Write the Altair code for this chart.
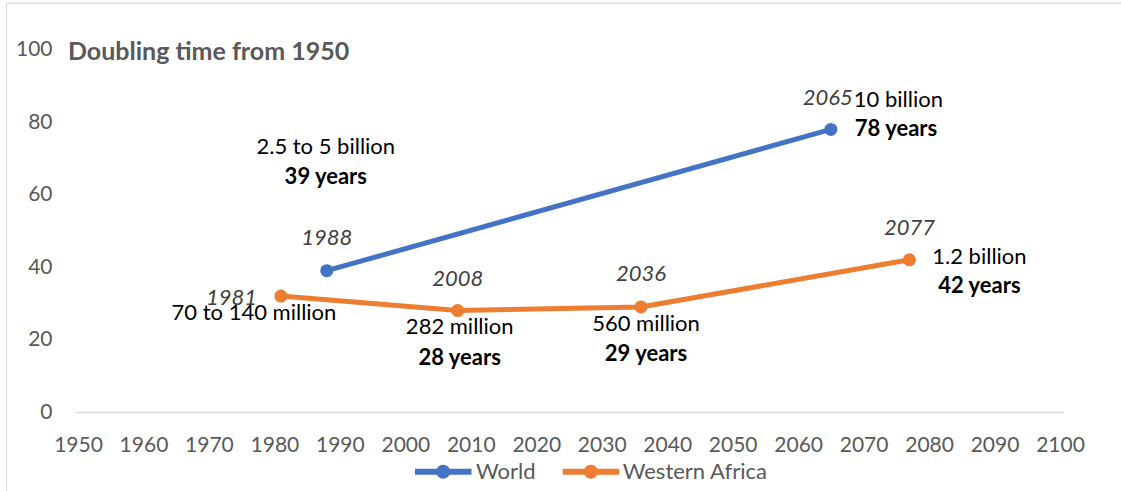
import altair as alt
import pandas as pd

# ---- data ----
series_names = ["World", "Western Africa"]
series_colors = ["#4472C4", "#ED7D31"]

world_years = [1988, 2065]
world_doubling = [39, 78]
world_pop = ["2.5 to 5 billion", "10 billion"]
world_span = ["39 years", "78 years"]

wa_years = [1981, 2008, 2036, 2077]
wa_doubling = [32, 28, 29, 42]
wa_pop = ["70 to 140 million", "282 million", "560 million", "1.2 billion"]
wa_span = ["", "28 years", "29 years", "42 years"]

x_ticks = list(range(1950, 2101, 10))
y_ticks = [0, 20, 40, 60, 80, 100]
chart_title = "Doubling time from 1950"

rows = []
for s, ys, ds, ps, sp in [("World", world_years, world_doubling, world_pop, world_span),
                          ("Western Africa", wa_years, wa_doubling, wa_pop, wa_span)]:
    for y, d, p, t in zip(ys, ds, ps, sp):
        rows.append({"series": s, "year": y, "doubling": d,
                     "year_label": str(y), "pop": p, "span": t})
df = pd.DataFrame(rows)

FONT = "Lato"
GRAY = "#595959"
FS = 22

X = alt.X("year:Q",
          scale=alt.Scale(domain=[1949.54, 2100.46], nice=False, zero=False),
          axis=alt.Axis(values=x_ticks, format="d", title=None, grid=False, ticks=False,
                        domainColor="#D9D9D9", domainWidth=1.5, labelFont=FONT,
                        labelFontSize=21, labelColor=GRAY, labelPadding=22,
                        labelFlush=False))
Y = alt.Y("doubling:Q",
          scale=alt.Scale(domain=[0, 100], nice=False),
          axis=alt.Axis(values=y_ticks, title=None, grid=False, ticks=False, domain=False,
                        labelFont=FONT, labelFontSize=21, labelColor=GRAY, labelPadding=23))

C = alt.Color("series:N", scale=alt.Scale(domain=series_names, range=series_colors),
              legend=None)

lines = alt.Chart(df).mark_line(strokeWidth=5).encode(x=X, y=Y, color=C, detail="series:N")
points = alt.Chart(df).mark_circle(size=170, opacity=1).encode(x=X, y=Y, color=C)


def label(series, year, field, dx, dy, align="center", weight="normal",
          style="normal", color="#000000"):
    return (alt.Chart(df)
            .transform_filter((alt.datum.series == series) & (alt.datum.year == year))
            .mark_text(dx=dx, dy=dy, align=align, baseline="middle", font=FONT,
                       fontSize=FS, fontWeight=weight, fontStyle=style, color=color)
            .encode(x=X, y=Y, text=f"{field}:N"))


YEARC = "#404040"
labels = [
    label("World", 1988, "year_label", 0, -33, style="italic", color=YEARC),
    label("World", 1988, "pop", -1, -124),
    label("World", 1988, "span", -1, -94, weight="bold"),
    label("World", 2065, "year_label", 22, -31, align="right", style="italic", color=YEARC),
    label("World", 2065, "pop", 23, -29, align="left"),
    label("World", 2065, "span", 24, 0, align="left", weight="bold"),
    label("Western Africa", 1981, "year_label", -24, 2, align="right", style="italic", color=YEARC),
    label("Western Africa", 1981, "pop", -27, 17),
    label("Western Africa", 2008, "year_label", 0, -32, style="italic", color=YEARC),
    label("Western Africa", 2008, "pop", 2, 16),
    label("Western Africa", 2008, "span", 2, 47, weight="bold"),
    label("Western Africa", 2036, "year_label", 0, -33, style="italic", color=YEARC),
    label("Western Africa", 2036, "pop", 5, 17),
    label("Western Africa", 2036, "span", 5, 47, weight="bold"),
    label("Western Africa", 2077, "year_label", 0, -32, style="italic", color=YEARC),
    label("Western Africa", 2077, "pop", 70, -3),
    label("Western Africa", 2077, "span", 70, 26, weight="bold"),
]

# ---- legend (line-with-marker glyphs), laid out below the axis ----
legend_layers = []
legend_slots = [(340, 401), (487.7, 547.7)]  # glyph left edge, label left edge (px)
LEG_Y = 422
for name, col, (gx, tx) in zip(series_names, series_colors, legend_slots):
    ldf = pd.DataFrame({"name": [name]})
    legend_layers.append(alt.Chart(ldf).mark_rule(color=col, strokeWidth=6).encode(
        x=alt.value(gx), x2=alt.value(gx + 56.5), y=alt.value(LEG_Y)))
    legend_layers.append(alt.Chart(ldf).mark_circle(color=col, size=200, opacity=1).encode(
        x=alt.value(gx + 28.2), y=alt.value(LEG_Y)))
    legend_layers.append(alt.Chart(ldf).mark_text(align="left", baseline="middle", font=FONT,
                                                  fontSize=22, color=GRAY).encode(
        text="name:N", x=alt.value(tx), y=alt.value(LEG_Y)))

title_df = pd.DataFrame({"t": [chart_title]})
title = alt.Chart(title_df).mark_text(align="left", baseline="middle", font=FONT,
                                      fontSize=25, fontWeight="bold", color=GRAY).encode(
    text="t:N", x=alt.value(-7), y=alt.value(2.3))

frame_df = pd.DataFrame({"k": [0]})
frame_left = alt.Chart(frame_df).mark_rule(color="#D9D9D9", strokeWidth=1.2).encode(
    x=alt.value(-68.5), y=alt.value(-46.5), y2=alt.value(445))
frame_top = alt.Chart(frame_df).mark_rule(color="#D9D9D9", strokeWidth=1.2).encode(
    x=alt.value(-68.5), x2=alt.value(1050), y=alt.value(-46.5))

chart = alt.layer(frame_left, frame_top, lines, points, *labels, title,
                  *legend_layers).properties(
    width=988, height=362.3,
    background="white",
    view=alt.ViewBackground(stroke="transparent", strokeWidth=0, strokeOpacity=0),
    autosize=alt.AutoSizeParams(type="none"),
    padding={"left": 75, "top": 49.7, "right": 58, "bottom": 79},
).configure_view(stroke="transparent", strokeWidth=0, strokeOpacity=0)

chart.save("out.html", embed_options={"renderer": "svg", "actions": False})
